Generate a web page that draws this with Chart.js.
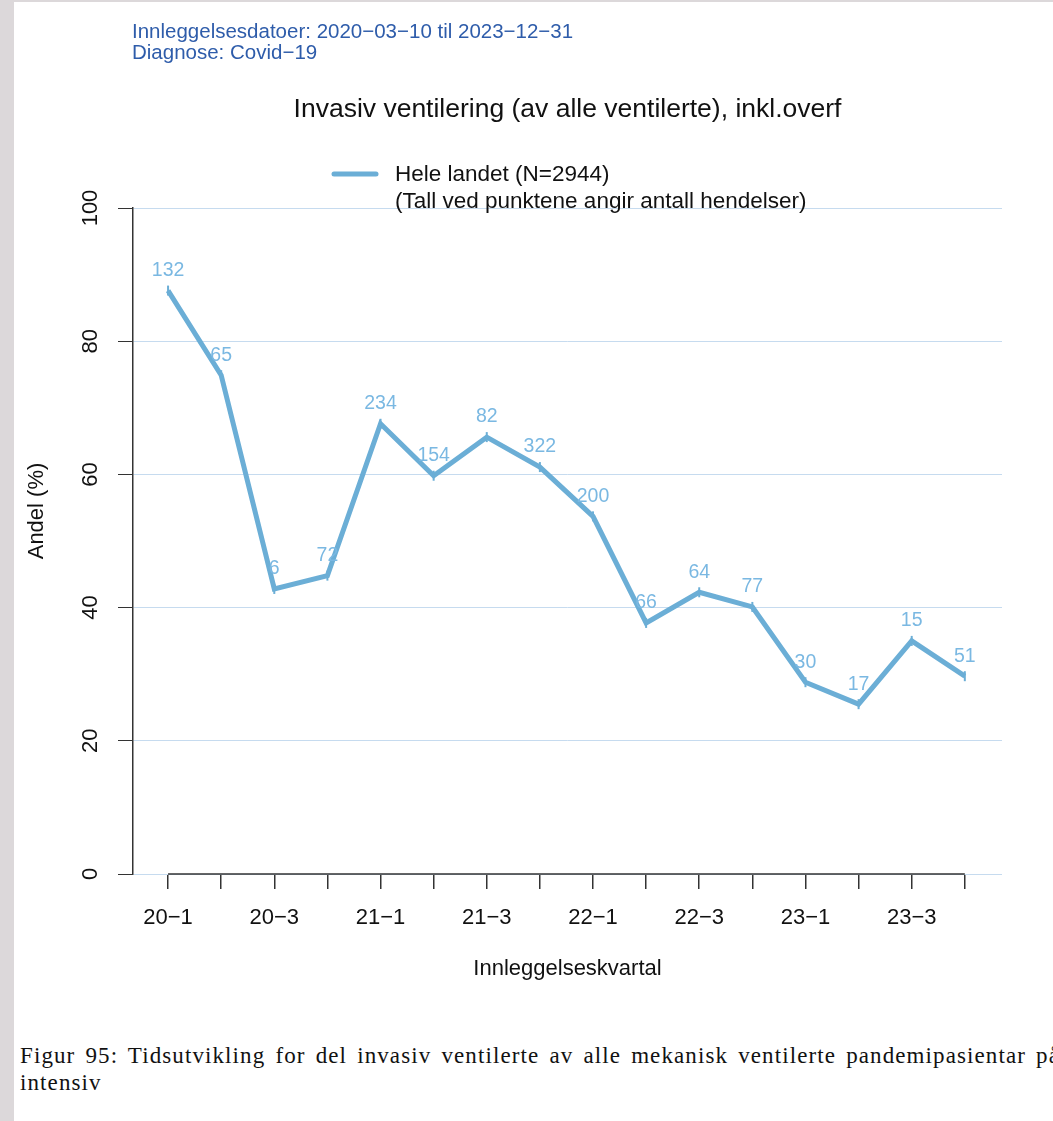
<!DOCTYPE html>
<html>
<head>
<meta charset="utf-8">
<script src="https://cdn.jsdelivr.net/npm/chart.js@4.4.1/dist/chart.umd.min.js"></script>
<style>
  html, body { margin: 0; padding: 0; overflow: hidden; }
  body { width: 1053px; height: 1121px; background: #dcd8da; position: relative; font-family: "Liberation Sans", Arial, sans-serif; }
  #page { position: absolute; left: 14px; top: 2px; width: 1039px; height: 1119px; background: #fff; }
  #chart { position: absolute; left: 0; top: 0; }
  #caption { position: absolute; left: 20px; top: 1042px; width: 1040px; font-family: "Liberation Serif", "Times New Roman", serif; font-size: 23px; line-height: 27px; color: #111; letter-spacing: 1.1px; text-align: left; }
  #caption .l1 { display: block; text-align: justify; text-align-last: justify; }
</style>
</head>
<body>
<div id="page"></div>
<canvas id="chart" width="1053" height="1000"></canvas>
<div id="caption"><span class="l1">Figur 95: Tidsutvikling for del invasiv ventilerte av alle mekanisk ventilerte pandemipasientar på</span>intensiv</div>
<script>
const quarters = ["20−1", "20−2", "20−3", "20−4", "21−1", "21−2", "21−3", "21−4",
                  "22−1", "22−2", "22−3", "22−4", "23−1", "23−2", "23−3", "23−4"];
const share = [87.6, 74.9, 42.8, 44.8, 67.6, 59.8, 65.6, 61.1,
               53.7, 37.7, 42.3, 40.1, 28.8, 25.5, 35.0, 29.7];
const events = [132, 65, 6, 72, 234, 154, 82, 322, 200, 66, 64, 77, 30, 17, 15, 51];
const yTicks = [0, 20, 40, 60, 80, 100];

const headerLines = ["Innleggelsesdatoer: 2020−03−10 til 2023−12−31", "Diagnose: Covid−19"];
const title = "Invasiv ventilering (av alle ventilerte), inkl.overf";
const legendLines = ["Hele landet (N=2944)", "(Tall ved punktene angir antall hendelser)"];

const lineColor = "#6baed6";
const labelColor = "#7ab8e2";
const gridColor = "#c6dbef";
const axisColor = "#333";
const font = '"Liberation Sans", Arial, sans-serif';

// draws the R-style bits that chart.js does not do by itself
const extras = {
  id: "extras",
  beforeDatasetsDraw(chart) {
    const { ctx, chartArea: a, scales: { x, y } } = chart;
    ctx.save();
    // x axis line only between first and last quarter
    ctx.strokeStyle = axisColor;
    ctx.lineWidth = 1.5;
    ctx.beginPath();
    ctx.moveTo(x.getPixelForValue(1), y.getPixelForValue(0));
    ctx.lineTo(x.getPixelForValue(quarters.length), y.getPixelForValue(0));
    ctx.stroke();

    // rotated y tick labels
    ctx.fillStyle = "#111";
    ctx.font = "22px " + font;
    ctx.textAlign = "center";
    ctx.textBaseline = "middle";
    yTicks.forEach(v => {
      ctx.save();
      ctx.translate(a.left - 42, y.getPixelForValue(v));
      ctx.rotate(-Math.PI / 2);
      ctx.fillText(String(v), 0, 0);
      ctx.restore();
    });

    // axis titles
    ctx.save();
    ctx.translate(a.left - 96, (a.top + a.bottom) / 2 - 30);
    ctx.rotate(-Math.PI / 2);
    ctx.fillText("Andel (%)", 0, 0);
    ctx.restore();
    ctx.fillText("Innleggelseskvartal", (a.left + a.right) / 2, a.bottom + 95);

    // title
    ctx.font = "26.5px " + font;
    ctx.fillText(title, (a.left + a.right) / 2, 110);

    // header
    ctx.textAlign = "left";
    ctx.fillStyle = "#2e5caa";
    ctx.font = "20.5px " + font;
    headerLines.forEach((t, i) => ctx.fillText(t, 132, 32 + i * 21));

    // legend
    ctx.strokeStyle = lineColor;
    ctx.lineWidth = 5;
    ctx.lineCap = "round";
    ctx.beginPath();
    ctx.moveTo(334, 174);
    ctx.lineTo(376, 174);
    ctx.stroke();
    ctx.fillStyle = "#111";
    ctx.font = "22.5px " + font;
    legendLines.forEach((t, i) => ctx.fillText(t, 395, 175 + i * 26.5));
    ctx.restore();
  },
  afterDatasetsDraw(chart) {
    const { ctx } = chart;
    const meta = chart.getDatasetMeta(0);
    ctx.save();
    ctx.fillStyle = labelColor;
    ctx.font = "19.5px " + font;
    ctx.textAlign = "center";
    ctx.textBaseline = "middle";
    meta.data.forEach((pt, i) => ctx.fillText(String(events[i]), pt.x, pt.y - 20));
    ctx.restore();
  }
};

new Chart(document.getElementById("chart"), {
  type: "line",
  data: {
    datasets: [{
      data: share.map((v, i) => ({ x: i + 1, y: v })),
      borderColor: lineColor,
      backgroundColor: lineColor,
      borderWidth: 5,
      tension: 0,
      pointStyle: "line",
      pointRotation: 90,
      pointRadius: 5,
      pointBorderWidth: 2,
      pointBorderColor: lineColor
    }]
  },
  options: {
    responsive: false,
    animation: false,
    layout: { padding: { top: 208, left: 73, right: 51, bottom: 66 } },
    plugins: { legend: { display: false }, title: { display: false }, tooltip: { enabled: false } },
    scales: {
      x: {
        type: "linear",
        min: 0.34,
        max: 16.7,
        afterBuildTicks: s => { s.ticks = quarters.map((q, i) => ({ value: i + 1 })); },
        afterFit: s => { s.height = 60; },
        border: { display: false },
        grid: { drawOnChartArea: false, drawTicks: true, tickLength: 15, tickColor: axisColor, lineWidth: 1.5 },
        ticks: {
          autoSkip: false,
          maxRotation: 0,
          padding: 16,
          color: "#111",
          font: { family: font, size: 22 },
          callback: v => (v % 2 === 1 ? quarters[v - 1] : "")
        }
      },
      y: {
        min: 0,
        max: 100,
        afterBuildTicks: s => { s.ticks = yTicks.map(v => ({ value: v })); },
        afterFit: s => { s.width = 60; },
        border: { display: true, color: axisColor, width: 1.5 },
        grid: { color: gridColor, lineWidth: 1, drawTicks: true, tickLength: 15, tickColor: axisColor },
        ticks: { display: false }
      }
    }
  },
  plugins: [extras]
});
</script>
</body>
</html>
